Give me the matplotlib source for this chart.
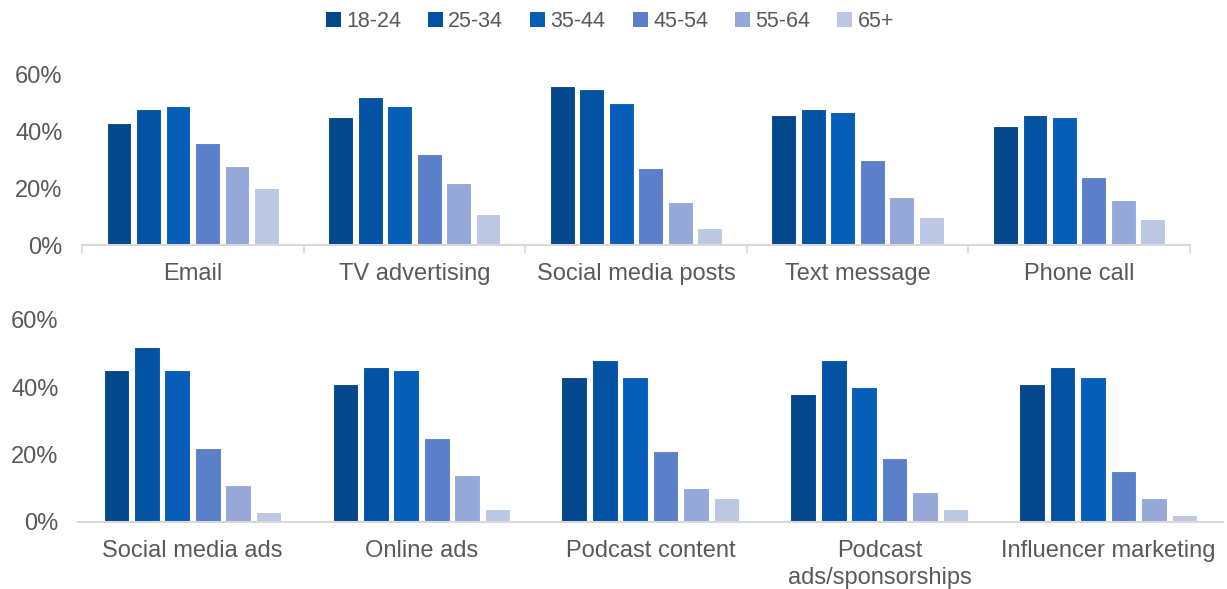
import numpy as np
import matplotlib.pyplot as plt
from matplotlib.patches import Patch

plt.rcParams['font.family'] = ['Liberation Sans', 'DejaVu Sans']

# Data
AGE_GROUPS = ['18-24', '25-34', '35-44', '45-54', '55-64', '65+']
COLORS = ['#03478C', '#0352A4', '#065EB8', '#5B7FC9', '#95A8D8', '#BCC7E3']

TOP_CHANNELS = ['Email', 'TV advertising', 'Social media posts', 'Text message', 'Phone call']
TOP_VALUES = [
    [43, 48, 49, 36, 28, 20],
    [45, 52, 49, 32, 22, 11],
    [56, 55, 50, 27, 15, 6],
    [46, 48, 47, 30, 17, 10],
    [42, 46, 45, 24, 16, 9],
]

BOTTOM_CHANNELS = ['Social media ads', 'Online ads', 'Podcast content',
                   'Podcast\nads/sponsorships', 'Influencer marketing']
BOTTOM_VALUES = [
    [45, 52, 45, 22, 11, 3],
    [41, 46, 45, 25, 14, 4],
    [43, 48, 43, 21, 10, 7],
    [38, 48, 40, 19, 9, 4],
    [41, 46, 43, 15, 7, 2],
]

TEXT = '#595959'
AXIS = '#D9D9D9'


def draw_panel(ax, channels, values, boundary_ticks):
    vals = np.array(values) / 100.0
    pitch = 0.133
    x = np.arange(len(channels))
    for j, (age, color) in enumerate(zip(AGE_GROUPS, COLORS)):
        offs = (j - 2.5) * pitch
        ax.bar(x + offs, vals[:, j], width=0.112, color=color,
               edgecolor='white', linewidth=0.8, label=age)
    ax.set_xlim(-0.5, len(channels) - 0.5)
    ax.set_ylim(0, 0.6)
    ax.set_yticks([0, 0.2, 0.4, 0.6])
    ax.set_yticklabels(['0%', '20%', '40%', '60%'])
    ax.set_xticks(x)
    ax.set_xticklabels(channels, linespacing=1.3)
    ax.tick_params(axis='both', length=0, labelsize=17, colors=TEXT)
    ax.tick_params(axis='y', pad=14)
    ax.tick_params(axis='x', pad=13)
    for s in ['top', 'right', 'left']:
        ax.spines[s].set_visible(False)
    ax.spines['bottom'].set_color(AXIS)
    ax.spines['bottom'].set_linewidth(1.5)
    if boundary_ticks:
        ax.set_xticks(np.arange(-0.5, len(channels)), minor=True)
        ax.tick_params(axis='x', which='minor', length=6, width=1.2,
                       color=AXIS, direction='out')


fig = plt.figure(figsize=(12.27, 5.89), dpi=100)
ax_top = fig.add_axes([0.0668, 0.584, 0.903, 0.289])
ax_bot = fig.add_axes([0.0636, 0.1138, 0.933, 0.343])

draw_panel(ax_top, TOP_CHANNELS, TOP_VALUES, True)
draw_panel(ax_bot, BOTTOM_CHANNELS, BOTTOM_VALUES, False)

handles = [Patch(facecolor=c, edgecolor='none') for c in COLORS]
fig.legend(handles, AGE_GROUPS, loc='center', bbox_to_anchor=(0.497, 0.963),
           ncol=6, frameon=False, fontsize=15.5, labelcolor=TEXT,
           handlelength=0.7, handleheight=0.7, handletextpad=0.25,
           columnspacing=1.25)

fig.savefig('out.png', dpi=100)
